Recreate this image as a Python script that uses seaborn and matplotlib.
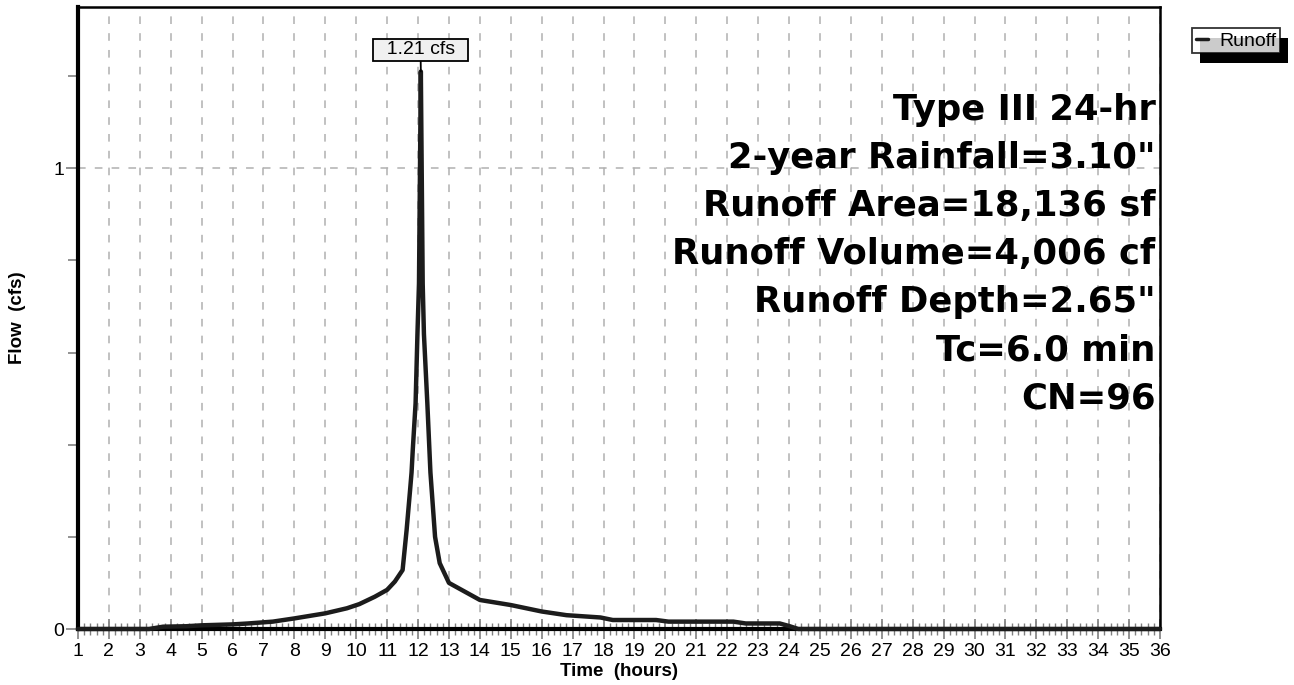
import numpy as np
import pandas as pd
import matplotlib
matplotlib.use("Agg")
import matplotlib.pyplot as plt
from matplotlib.ticker import MultipleLocator
from matplotlib.patches import Rectangle
import seaborn as sns

# Runoff hydrograph (hours, cfs)
time_hr = [1.0, 3.3, 3.75, 4.5, 5.0, 6.0, 6.5, 7.3, 8.0, 9.0, 9.7, 10.1, 10.6, 11.0, 11.25,
           11.5, 11.63, 11.74, 11.79, 11.83, 11.92, 11.98, 12.03, 12.09,
           12.15, 12.19, 12.3, 12.4, 12.55, 12.7, 13.0, 14.0, 15.0, 16.0, 16.8, 17.9,
           18.3, 19.7, 20.1, 22.2, 22.6, 23.7, 24.0, 24.3, 36.0]
flow_cfs = [0.0, 0.0, 0.005, 0.006, 0.008, 0.010, 0.012, 0.016, 0.023, 0.034, 0.045, 0.054, 0.070, 0.085, 0.103,
            0.128, 0.215, 0.30, 0.34, 0.39, 0.49, 0.64, 0.75, 1.21,
            0.75, 0.64, 0.49, 0.34, 0.20, 0.143, 0.10, 0.063, 0.052, 0.038, 0.030, 0.025,
            0.0195, 0.0195, 0.016, 0.016, 0.012, 0.012, 0.0065, 0.0, 0.0]
peak_time = 12.09
peak_flow = 1.21
info_lines = ["Type III 24-hr", "2-year Rainfall=3.10\"", "Runoff Area=18,136 sf",
              "Runoff Volume=4,006 cf", "Runoff Depth=2.65\"", "Tc=6.0 min", "CN=96"]

sns.set_style("ticks")
plt.rcParams['font.family'] = ['Liberation Sans', 'DejaVu Sans']
plt.rcParams['text.color'] = 'black'
plt.rcParams['axes.labelcolor'] = 'black'
plt.rcParams['xtick.labelcolor'] = 'black'
plt.rcParams['ytick.labelcolor'] = 'black'

df = pd.DataFrame({"Time": time_hr, "Flow": flow_cfs})

fig = plt.figure(figsize=(12.94, 6.85), dpi=100)
ax = fig.add_axes([78 / 1294, 1 - 629 / 685, (1160 - 78) / 1294, (629 - 7) / 685])

ax.set_xlim(1, 36)
ax.set_ylim(0, 1.35)
ax.xaxis.set_major_locator(MultipleLocator(1))
ax.xaxis.set_minor_locator(MultipleLocator(0.2))
ax.yaxis.set_major_locator(MultipleLocator(1))
ax.yaxis.set_minor_locator(MultipleLocator(0.2))

ax.grid(True, which="major", color="#b0b0b0", linestyle=(0, (5, 6)), linewidth=1.1)
ax.set_axisbelow(True)

sns.lineplot(data=df, x="Time", y="Flow", ax=ax, color="#1c1c1c", linewidth=3.2,
             label="Runoff", legend=False, zorder=3, clip_on=False)

for side in ["top", "right"]:
    ax.spines[side].set_linewidth(1.8)
    ax.spines[side].set_color("black")
ax.spines["left"].set_linewidth(3.0)
ax.spines["bottom"].set_linewidth(3.0)
ax.spines["left"].set_color("black")
ax.spines["bottom"].set_color("black")

ax.tick_params(axis="x", which="major", bottom=True, top=False, direction="inout", length=14,
               width=1.2, color="#808080", labelsize=14, pad=3)
ax.tick_params(axis="x", which="minor", bottom=True, top=False, direction="inout", length=8,
               width=1.0, color="#808080")
ax.tick_params(axis="y", which="major", left=True, right=False, direction="out", length=9,
               width=1.2, color="#808080", labelsize=14, pad=1)
ax.tick_params(axis="y", which="minor", left=True, right=False, direction="out", length=7,
               width=1.2, color="#808080")
ax.set_xticks(range(1, 37))
ax.set_xticklabels([str(i) for i in range(1, 37)])
ax.set_yticks([0, 1])
ax.set_yticklabels(["0", "1"])

ax.set_xlabel("Time  (hours)", fontsize=13.5, fontweight="bold", labelpad=2)
ax.set_ylabel("Flow  (cfs)", fontsize=13.5, fontweight="bold")
ax.yaxis.set_label_coords(-0.0555, 0.5)
ax.yaxis.label.set_va("center")

# peak label
ax.annotate(f"  {peak_flow:.2f} cfs  ", xy=(peak_time, peak_flow), xytext=(12.08, 1.257),
            ha="center", va="center", fontsize=14,
            bbox=dict(boxstyle="square,pad=0.12", fc="#f0f0f0", ec="black", lw=1.3),
            arrowprops=dict(arrowstyle="-", color="black", lw=1.3, shrinkA=0, shrinkB=0),
            zorder=5)

# info block
for i, line in enumerate(info_lines):
    y_px = 110 + i * 48
    ax.text(0.996, (629 - y_px) / 622, line, transform=ax.transAxes, ha="right", va="center",
            fontsize=25.5, fontweight="bold", color="black", family="DejaVu Sans", zorder=4)

# legend with solid shadow
handles, labels = ax.get_legend_handles_labels()
leg = fig.legend(handles, labels, loc="upper left", bbox_to_anchor=(1192 / 1294, 1 - 28 / 685),
                 frameon=True, fancybox=False, fontsize=14, handlelength=0.6, handletextpad=0.6,
                 borderpad=0.2, borderaxespad=0)
leg.get_frame().set_edgecolor("black")
leg.get_frame().set_linewidth(1.3)
for lh in leg.get_lines():
    lh.set_linewidth(2.5)
leg.set_zorder(6)

fig.canvas.draw()
bb = leg.get_window_extent().transformed(fig.transFigure.inverted())
fig.patches.append(Rectangle((bb.x0 + 8 / 1294, bb.y0 - 10 / 685), bb.width, bb.height,
                             transform=fig.transFigure, fc="black", ec="none", zorder=5))

fig.savefig("out.png", dpi=100)
